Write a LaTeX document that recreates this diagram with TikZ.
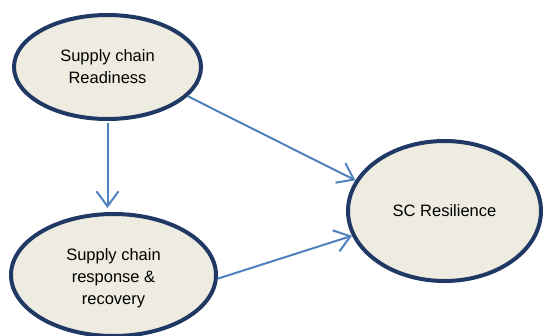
\documentclass[tikz,border=0pt]{standalone}
\usepackage{fontspec}
\setmainfont{Liberation Sans}
\usetikzlibrary{shapes.geometric,arrows.meta}
\definecolor{efill}{RGB}{238,236,225}
\definecolor{edraw}{RGB}{31,56,100}
\definecolor{arrc}{RGB}{79,129,189}
\tikzset{
  bub/.style={ellipse, draw=edraw, fill=efill, line width=4pt, inner sep=0pt,
    align=center, font=\fontsize{16.5}{22}\selectfont},
  arr/.style={draw=arrc, line width=2pt,
    -{Straight Barb[length=15pt,width=22pt,line width=2pt]}}
}
\begin{document}
\begin{tikzpicture}[x=1pt,y=-1pt]
\useasboundingbox (0,0) rectangle (543,335);
\node[bub, minimum width=187pt, minimum height=104pt] (rd) at (107.5,67) {Supply chain\\Readiness};
\node[bub, minimum width=205pt, minimum height=122pt] (rc) at (113.5,275) {\\[-3pt]Supply chain\\response \&\\recovery};
\node[bub, minimum width=193pt, minimum height=140pt] (rs) at (444.5,211) {SC Resilience};
\draw[arr, shorten <=2pt, shorten >=4pt] (rd.south) -- (rd.south |- rc.north);
\draw[arr] (rd.-20) -- (rs.161);
\draw[arr] (rc.-2) -- (rs.195);
\end{tikzpicture}
\end{document}
